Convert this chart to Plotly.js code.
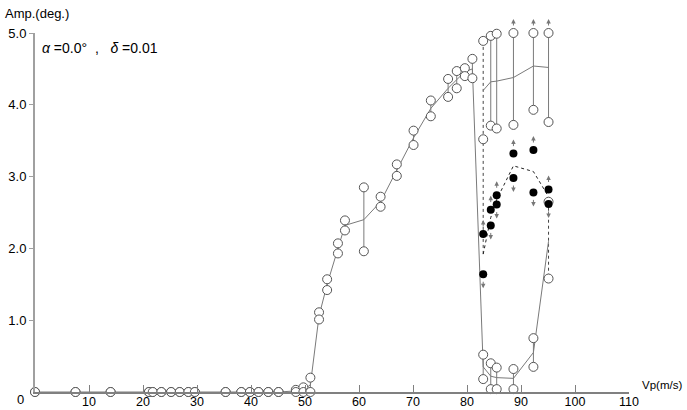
<!DOCTYPE html>
<html><head><meta charset="utf-8">
<script src="https://cdn.plot.ly/plotly-3.0.1.min.js"></script>
<style>html,body{margin:0;padding:0;background:#fff}#c{width:687px;height:410px}</style>
</head><body><div id="c"></div>
<script>
// Main branch (Vp 0 - 81 m/s): max / min amplitude and mean line
const vpMain   = [0, 7.5, 14.0, 21.1, 21.8, 23.4, 25.2, 26.8, 28.4, 29.6, 35.3, 38.2, 39.8, 41.4, 43.2, 45.1, 48.3, 49.7, 51.0, 52.6, 54.1, 56.1, 57.4, 60.9, 64.0, 67.0, 70.1, 73.3, 76.5, 78.1, 79.6, 81.0];
const maxMain  = [0, 0, 0, 0, 0, 0, 0, 0, 0, 0, 0, 0, 0, 0, 0, 0, 0.03, 0.065, 0.20, 1.11, 1.57, 2.07, 2.39, 2.85, 2.72, 3.17, 3.64, 4.06, 4.36, 4.47, 4.51, 4.64];
const minMain  = [0, 0, 0, 0, 0, 0, 0, 0, 0, 0, 0, 0, 0, 0, 0, 0, 0.0, 0.0, 0.0, 1.01, 1.42, 1.93, 2.25, 1.96, 2.58, 3.01, 3.44, 3.84, 4.11, 4.23, 4.40, 4.37];
const meanMain = [0, 0, 0, 0, 0, 0, 0, 0, 0, 0, 0, 0, 0, 0, 0, 0, 0.015, 0.03, 0.10, 1.06, 1.50, 2.00, 2.32, 2.40, 2.65, 3.09, 3.54, 3.95, 4.23, 4.35, 4.46, 4.50];

// Post-flutter branches (Vp >= 83 m/s)
const vpPost   = [83.0, 84.4, 85.5, 88.6, 92.3, 95.1];
// upper branch (open circles, solid mean)
const maxUp    = [4.89, 4.96, 4.99, 5.0, 5.0, 5.0];
const minUp    = [3.52, 3.71, 3.67, 3.72, 3.93, 3.76];
const meanUp   = [4.20, 4.32, 4.33, 4.38, 4.54, 4.52];
const offUp    = [false, false, false, true, true, true];   // off-scale (arrow)
// middle branch (filled dots, dotted mean)
const maxMid   = [2.20, 2.54, 2.74, 3.32, 3.37, 2.82];
const minMid   = [1.64, 2.32, 2.61, 2.98, 2.78, 2.62];
const meanMid  = [1.92, 2.43, 2.68, 3.15, 3.07, 2.72];
// lower branch (open circles, solid mean)
const maxLow   = [0.52, 0.40, 0.34, 0.32, 0.75, 2.65];
const minLow   = [0.18, 0.04, 0.04, 0.04, 0.35, 1.58];
const meanLow  = [0.35, 0.22, 0.20, 0.19, 0.55, 2.10];

const xTicks = [10, 20, 30, 40, 50, 60, 70, 80, 90, 100, 110];
const yTicks = [1, 2, 3, 4, 5];
const yTickText = ['1.0', '2.0', '3.0', '4.0', '5.0'];

const LINE = '#7a7a7a';
const CIRC = '#555555';
const FONT = 'Liberation Sans, Arial, sans-serif';

function verticals(xs, a, b) {
  const X = [], Y = [];
  xs.forEach((x, i) => { X.push(x, x, null); Y.push(a[i], b[i], null); });
  return {X, Y};
}

const vMain = verticals(vpMain, maxMain, minMain);
const vUp   = verticals(vpPost.slice(1), maxUp.slice(1), minUp.slice(1));
const vLow  = verticals(vpPost.slice(0, 5), maxLow.slice(0, 5), minLow.slice(0, 5));

const traces = [
  {x: vMain.X.concat(vUp.X, vLow.X), y: vMain.Y.concat(vUp.Y, vLow.Y), mode: 'lines',
   line: {color: LINE, width: 1}, hoverinfo: 'skip', cliponaxis: false},
  {x: [vpPost[0], vpPost[0], null, vpPost[5], vpPost[5]],
   y: [maxUp[0], meanMid[0], null, maxLow[5], minLow[5]], mode: 'lines',
   line: {color: '#444', width: 1, dash: 'dot'}, hoverinfo: 'skip', cliponaxis: false},
  {x: vpMain.concat(vpPost), y: meanMain.concat(meanLow), mode: 'lines',
   line: {color: LINE, width: 1}, cliponaxis: false},
  {x: vpPost, y: meanUp, mode: 'lines', line: {color: LINE, width: 1}, cliponaxis: false},
  {x: vpPost, y: meanMid, mode: 'lines', line: {color: '#222', width: 1, dash: 'dot'}, cliponaxis: false},
  {x: vpMain.concat(vpMain, vpPost, vpPost, vpPost, vpPost),
   y: maxMain.concat(minMain, maxUp, minUp, maxLow, minLow), mode: 'markers',
   marker: {symbol: 'circle', size: 9, color: '#fff', line: {color: CIRC, width: 1}}, cliponaxis: false},
  {x: vpPost.concat(vpPost), y: maxMid.concat(minMid), mode: 'markers',
   marker: {symbol: 'circle', size: 8, color: '#000', line: {color: '#000', width: 0}}, cliponaxis: false}
];

const annotations = [];
function arrow(x, y, up) {
  annotations.push({x: x, y: y, xref: 'x', yref: 'y', text: '', showarrow: true,
    ax: 0, ay: up ? 8 : -8, yshift: up ? 14 : -14,
    arrowhead: 2, arrowsize: 0.9, arrowwidth: 1, arrowcolor: '#777'});
}
vpPost.forEach((x, i) => {
  arrow(x, maxMid[i], true);
  arrow(x, minMid[i], false);
  if (offUp[i]) arrow(x, maxUp[i], true);
});

annotations.push(
  {xref: 'paper', yref: 'paper', x: -0.054, y: 1.053, xanchor: 'left', yanchor: 'middle',
   text: 'Amp.(deg.)', showarrow: false, font: {family: FONT, size: 13, color: '#000'}},
  {xref: 'paper', yref: 'paper', x: 1.092, y: 0.02, xanchor: 'right', yanchor: 'middle',
   text: 'Vp(m/s)', showarrow: false, font: {family: FONT, size: 11.5, color: '#000'}},
  {xref: 'paper', yref: 'paper', x: -0.025, y: -0.022, xanchor: 'center', yanchor: 'middle',
   text: '0', showarrow: false, font: {family: FONT, size: 13, color: '#000'}},
  {xref: 'paper', yref: 'paper', x: 0.008, y: 0.985, xanchor: 'left', yanchor: 'top',
   text: '<i>α</i> =0.0°  ,   <i>δ</i> =0.01', showarrow: false,
   font: {family: FONT, size: 14, color: '#000'}}
);

const layout = {
  width: 687, height: 410,
  margin: {l: 35, r: 58, t: 33, b: 18, pad: 0},
  paper_bgcolor: '#fff', plot_bgcolor: '#fff',
  showlegend: false,
  xaxis: {range: [0, 110], showgrid: false, zeroline: false, showline: true,
    linecolor: '#808080', linewidth: 1.5, ticks: 'inside', ticklen: 7, tickcolor: '#808080',
    ticklabelstandoff: -3,
    tickvals: xTicks, ticktext: xTicks.map(String), tickfont: {family: FONT, size: 12.5, color: '#000'}},
  yaxis: {range: [0, 5], showgrid: false, zeroline: false, showline: true,
    linecolor: '#a0a0a0', linewidth: 2, ticks: 'outside', ticklen: 4, tickcolor: '#a0a0a0',
    tickvals: yTicks, ticktext: yTickText, tickfont: {family: FONT, size: 13, color: '#000'}},
  annotations: annotations
};

Plotly.newPlot('c', traces, layout, {staticPlot: true, displayModeBar: false});
</script></body></html>
